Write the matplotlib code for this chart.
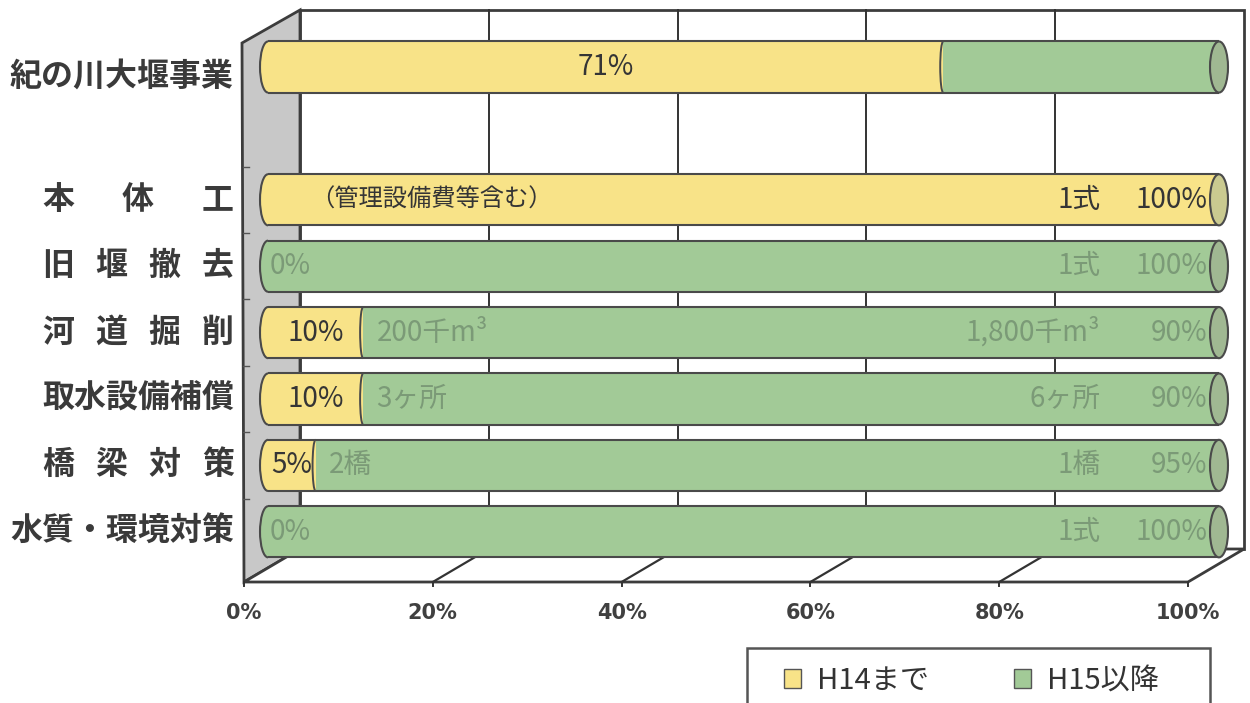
import matplotlib
matplotlib.use('Agg')
import matplotlib.pyplot as plt
from matplotlib.patches import Polygon, Ellipse, Arc, Patch, Rectangle
from matplotlib import transforms

plt.rcParams['font.family'] = ['Noto Sans CJK JP', 'DejaVu Sans']
NARROW = ['Liberation Sans Narrow', 'Noto Sans CJK JP', 'DejaVu Sans']

# ---- data ----
projects = ["紀の川大堰事業", "本体工", "旧堰撤去", "河道掘削", "取水設備補償", "橋梁対策", "水質・環境対策"]
h14 = [71, 100, 0, 10, 10, 5, 0]      # H14まで (%)
h15 = [29, 0, 100, 90, 90, 95, 100]   # H15以降 (%)
start_notes = ["", "（管理設備費等含む）", "", "200千m³", "3ヶ所", "2橋", ""]
end_notes = ["", "1式", "1式", "1,800千m³", "6ヶ所", "1橋", "1式"]
series_names = ["H14まで", "H15以降"]
x_ticks = [0, 20, 40, 60, 80, 100]

YEL = '#F8E388'
GRN = '#A2CA97'
YEL_CAP = '#CACA90'
GRN_CAP = '#A0B892'
EDGE = '#4a4a4a'
DARK_TXT = '#353535'
FADE_TXT = '#7b9a77'

W, H = 1250, 703
fig = plt.figure(figsize=(W / 100, H / 100), dpi=100)

# ---- 3D box (walls and floor), pixel space ----
bg = fig.add_axes([0, 0, 1, 1])
bg.set_xlim(0, W)
bg.set_ylim(H, 0)
bg.axis('off')

FRONT_X0, FRONT_X1, FRONT_Y = 244, 1188, 582
DX, DY = 56, 33
BACK_TOP = 10
BACK_Y = FRONT_Y - DY


def front_x(v):
    return FRONT_X0 + v / 100 * (FRONT_X1 - FRONT_X0)


def back_x(v):
    return front_x(v) + DX


bg.add_patch(Rectangle((back_x(0), BACK_TOP), back_x(100) - back_x(0), BACK_Y - BACK_TOP,
                       facecolor='white', edgecolor='#3c3c3c', lw=2))
bg.add_patch(Polygon([(FRONT_X0 - 2, 43), (back_x(0), BACK_TOP), (back_x(0), BACK_Y),
                      (FRONT_X0, FRONT_Y)], closed=True, facecolor='#c8c8c8',
                     edgecolor='#3c3c3c', lw=2))
bg.add_patch(Polygon([(front_x(0), FRONT_Y), (front_x(100), FRONT_Y), (back_x(100), BACK_Y),
                      (back_x(0), BACK_Y)], closed=True, facecolor='white',
                     edgecolor='#3c3c3c', lw=2))
for v in x_ticks[1:-1]:
    bg.plot([back_x(v), back_x(v)], [BACK_TOP, BACK_Y], color='#333333', lw=1.4)
    bg.plot([front_x(v), back_x(v)], [FRONT_Y, BACK_Y], color='#333333', lw=1.6)
for v in x_ticks:
    bg.plot([front_x(v), front_x(v)], [FRONT_Y, FRONT_Y + 4], color='#333333', lw=1.4)

# ---- bars ----
BAR_X0, BAR_X1 = 268, 1219
ROW0_Y, ROW_STEP = 67, 66.4
ax = fig.add_axes([BAR_X0 / W, (H - FRONT_Y) / H, (BAR_X1 - BAR_X0) / W, (FRONT_Y - BACK_TOP) / H])
ax.set_xlim(0, 100)
ax.set_ylim((FRONT_Y - ROW0_Y) / ROW_STEP, (BACK_TOP - ROW0_Y) / ROW_STEP)
ax.axis('off')
ax.patch.set_alpha(0)

ux = (BAR_X1 - BAR_X0) / 100  # px per percent
ypos = [0] + [i + 2 for i in range(len(projects) - 1)]  # blank slot after the first row
bh = 0.77

# wall ticks between rows
for y in ypos[1:]:
    yy = ROW0_Y + (y - 0.5) * ROW_STEP
    bg.plot([FRONT_X0 - 1, FRONT_X0 + 5], [yy, yy], color='#555555', lw=1)

ax.barh(ypos, h14, height=bh, color=YEL, edgecolor='none', zorder=3)
ax.barh(ypos, h15, left=h14, height=bh, color=GRN, edgecolor='none', zorder=3)

for y, a, b in zip(ypos, h14, h15):
    first = YEL if a > 0 else GRN
    cw = 16 / ux
    ax.add_patch(Ellipse((0, y), cw, bh, facecolor=first, edgecolor='none', zorder=3, clip_on=False))
    ax.add_patch(Arc((0, y), cw, bh, theta1=90, theta2=270, color=EDGE, lw=1.5, zorder=4, clip_on=False))
    ax.hlines([y - bh / 2, y + bh / 2], 0, 100, color=EDGE, lw=1.5, zorder=4)
    if 0 < a < 100:
        ax.add_patch(Arc((a, y), 6 / ux, bh, theta1=90, theta2=270, color=EDGE, lw=1.4, zorder=4))
    cap = YEL_CAP if b == 0 else GRN_CAP
    ax.add_patch(Ellipse((100, y), 18 / ux, bh, facecolor=cap, edgecolor=EDGE, lw=1.5,
                         zorder=5, clip_on=False))

# ---- texts in bars ----
TXT = 20
for i, (y, a, b) in enumerate(zip(ypos, h14, h15)):
    if i == 0:
        ax.text(a / 2, y, f"{a}%", ha='center', va='center', fontsize=TXT,
                color=DARK_TXT, family=NARROW, zorder=6)
        continue
    if a == 0:
        ax.text(0.2, y, "0%", ha='left', va='center', fontsize=TXT, color=FADE_TXT,
                family=NARROW, zorder=6)
    elif a < 100:
        ax.text(a / 2, y, f"{a}%", ha='center', va='center', fontsize=TXT, color=DARK_TXT,
                family=NARROW, zorder=6)
    right_val = a if a == 100 else b
    right_col = DARK_TXT if a == 100 else FADE_TXT
    ax.text(98.8, y, f"{right_val}%", ha='right', va='center', fontsize=TXT, color=right_col,
            family=NARROW, zorder=6)
    ax.text(87.5, y, end_notes[i], ha='right', va='center', fontsize=TXT, color=right_col,
            family=NARROW, zorder=6)
    if start_notes[i]:
        sx = (a if a < 100 else 0) + 1.4
        sx = max(sx, 4.4)
        ax.text(sx, y, start_notes[i], ha='left', va='center',
                fontsize=17.5 if a == 100 else TXT,
                color=DARK_TXT if a == 100 else FADE_TXT, family=NARROW, zorder=6)

# ---- category labels ----
lab_tf = transforms.blended_transform_factory(fig.transFigure, ax.transData)
LAB_L, LAB_R = 58, 218
for name, y in zip(projects, ypos):
    if len(name) <= 4:
        n = len(name)
        for k, ch in enumerate(name):
            cx = LAB_L + k * (LAB_R - LAB_L) / (n - 1)
            ax.text(cx / W, y, ch, transform=lab_tf, ha='center', va='center',
                    fontsize=23, fontweight='bold', color='#3a3a3a', clip_on=False)
    else:
        ax.text(234 / W, y + (0.15 if y == 0 else 0), name, transform=lab_tf, ha='right',
                va='center', fontsize=23, fontweight='bold', color='#3a3a3a', clip_on=False)

# ---- x tick labels on the front edge ----
axf = fig.add_axes([front_x(0) / W, (H - FRONT_Y) / H, (FRONT_X1 - FRONT_X0) / W, 0.0001])
axf.set_xlim(0, 100)
axf.set_xticks(x_ticks)
axf.set_xticklabels([f"{v}%" for v in x_ticks])
axf.set_yticks([])
for s in axf.spines.values():
    s.set_visible(False)
axf.patch.set_alpha(0)
axf.tick_params(axis='x', length=0, pad=15, labelsize=15, labelcolor='#404040')
for lbl in axf.get_xticklabels():
    lbl.set_fontweight('bold')
    lbl.set_family(['DejaVu Sans'])

# ---- legend (frame runs past the bottom edge, as in the scan) ----
LEG_L, LEG_R, LEG_T = 747, 1210, 648
bg.add_patch(Rectangle((LEG_L, LEG_T), LEG_R - LEG_L, 80, facecolor='white',
                       edgecolor='#555555', lw=1.8, zorder=5))
handles = [Patch(facecolor=YEL, edgecolor='#555555'), Patch(facecolor=GRN, edgecolor='#555555')]
leg = fig.legend(handles, series_names, loc='upper left',
                 bbox_to_anchor=(778 / W, 1 - (LEG_T + 12) / H),
                 ncol=2, fontsize=21, frameon=False, handlelength=0.6, handleheight=0.6,
                 handletextpad=0.55, columnspacing=2.9, borderpad=0.2, borderaxespad=0,
                 labelcolor='#333333')
leg.set_zorder(10)

fig.savefig('out.png', dpi=100)
